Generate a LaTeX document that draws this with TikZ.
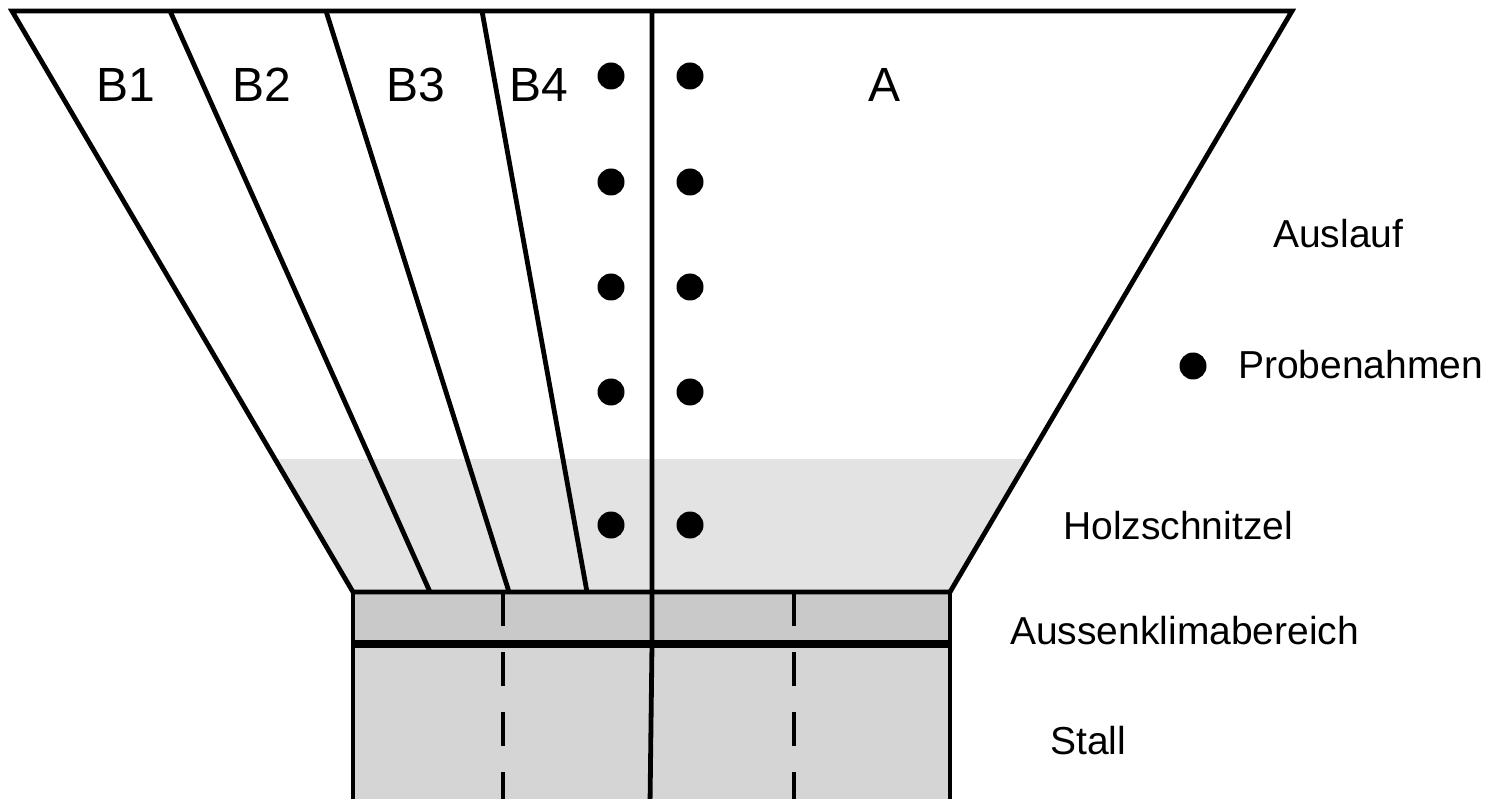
\documentclass[tikz,border=0pt]{standalone}
\usepackage{fontspec}
\setmainfont{Liberation Sans}
\begin{document}
\begin{tikzpicture}[x=1pt,y=-1pt,
  wall/.style={line width=4.8pt, line join=miter},
  dashwall/.style={line width=4.8pt, dash pattern=on 34pt off 26pt},
  bigl/.style={font=\fontsize{48}{56}\selectfont, inner sep=0pt, anchor=base},
  smalll/.style={font=\fontsize{39}{46}\selectfont, inner sep=0pt, anchor=base west},
  probe/.style={circle, fill=black, inner sep=0pt, minimum size=27pt}]
\useasboundingbox (0,0) rectangle (1491,799);
% shaded areas
\fill[gray!22] (275,459) -- (1028,459) -- (950,592) -- (353,592) -- cycle;
\fill[gray!42] (353,592) rectangle (950,644);
\fill[gray!33] (353,644) rectangle (950,805);
% coordinates
\coordinate (tl) at (12,11);
\coordinate (tr) at (1292,11);
\coordinate (bl) at (353,592);
\coordinate (br) at (950,592);
\coordinate (bll) at (353,805);
\coordinate (brr) at (950,805);
% outline
\draw[wall] (tl) -- (tr) -- (br) -- (bl) -- cycle;
\draw[wall] (bl) -- (bll);
\draw[wall] (br) -- (brr);
\draw[line width=7.5pt] (351,644) -- (952,644);
% dividers
\draw[wall] (170,11) -- (430,592);
\draw[wall] (326,11) -- (509,592);
\draw[wall] (482,11) -- (587,592);
\draw[wall] (652,11) -- (652,644) -- (650,805);
% dashed
\draw[dashwall] (503,592) -- (503,805);
\draw[dashwall] (794,592) -- (794,805);
% labels
\node[bigl] (b1) at (126,102) {B1};
\node[bigl] (b2) at (262,102) {B2};
\node[bigl] (b3) at (416,102) {B3};
\node[bigl] (b4) at (539,102) {B4};
\node[bigl] (a) at (884,102) {A};
% probes
\foreach \yy [count=\i] in {76,182,287,392,525} {
  \node[probe] (pl\i) at (611,\yy) {};
  \node[probe] (pr\i) at (690,\yy) {};
}
\node[probe] (leg) at (1193,366) {};
\node[smalll] (probet) at (1238,379) {Probenahmen};
\node[smalll] (ausl) at (1273,248) {Auslauf};
\node[smalll] (holz) at (1063,539) {Holzschnitzel};
\node[smalll] (aussen) at (1010,644) {Aussenklimabereich};
\node[smalll] (stall) at (1050,754) {Stall};
\end{tikzpicture}
\end{document}
